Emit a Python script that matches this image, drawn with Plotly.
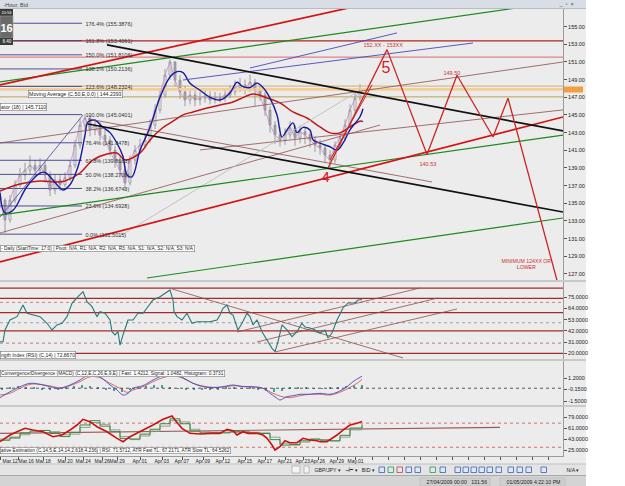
import plotly.graph_objects as go

W, H = 625, 486

# ---------------- price panel data (t = chart time position) ----------------
bar_t = list(range(0, 361, 5))
first_open = 135.8
bar_close = [135.35, 133.1, 135.35, 137.1, 138.2, 138.75, 139.3, 138.75, 139.3, 138.2,
             136.5, 137.65, 137.1, 137.9, 139.3, 141.6, 143.85, 144.65, 143.3, 143.85,
             142.7, 142.15, 141.0, 139.7, 138.75, 137.3, 139.9, 141.0, 141.6, 142.15,
             143.85, 145.55, 147.25, 149.5, 151.0, 148.95, 147.6, 146.7, 147.25, 146.7,
             146.9, 147.15, 146.7, 147.0, 146.9, 147.25, 147.6, 148.05, 148.4, 148.05,
             148.7, 147.85, 147.25, 145.55, 143.85, 142.75, 142.15, 142.75, 143.55, 142.4,
             143.1, 142.75, 142.15, 141.6, 141.25, 140.45, 139.9, 141.6, 142.4, 143.85,
             145.55, 146.9, 147.99]
bar_high = [136.6, 135.6, 135.9, 137.6, 139.0, 139.6, 140.4, 139.9, 140.1, 139.7,
            138.6, 138.3, 138.2, 138.5, 139.9, 142.2, 144.6, 145.1, 145.0, 144.5,
            144.2, 143.4, 142.6, 141.5, 140.3, 139.2, 140.4, 141.6, 142.3, 142.9,
            144.5, 146.2, 148.0, 150.2, 151.3, 151.1, 149.5, 148.3, 148.0, 147.8,
            147.6, 147.8, 147.7, 147.6, 147.5, 147.9, 148.4, 148.9, 149.2, 149.0,
            149.6, 149.1, 148.3, 147.6, 146.0, 144.3, 143.6, 143.5, 144.3, 143.9,
            143.8, 143.6, 143.2, 142.6, 142.2, 141.7, 141.0, 142.0, 143.1, 144.5,
            146.2, 147.6, 148.5]
bar_low = [134.5, 131.6, 132.8, 135.0, 136.8, 137.6, 138.3, 137.9, 138.2, 137.3,
           135.8, 136.0, 136.4, 136.8, 137.5, 139.0, 141.2, 143.2, 142.6, 142.7,
           142.1, 141.5, 140.4, 139.0, 137.9, 136.4, 137.0, 139.4, 140.6, 141.2,
           141.8, 143.4, 145.2, 146.9, 149.0, 148.2, 146.8, 146.0, 146.2, 146.0,
           146.1, 146.4, 146.2, 146.3, 146.4, 146.5, 146.9, 147.2, 147.6, 147.3,
           147.6, 146.0, 146.6, 144.9, 143.0, 141.7, 141.4, 141.6, 142.3, 141.5,
           141.8, 141.7, 141.3, 140.8, 140.5, 139.6, 139.0, 139.5, 141.2, 142.0,
           143.5, 145.2, 146.6]
bar_open = [first_open] + bar_close[:-1]

# oscillator (18) - blue
blue_t = [0, 5, 13, 27, 40, 45, 57, 63, 70, 75, 80, 85, 88, 95, 103, 110, 117, 123, 127, 132,
          140, 150, 160, 170, 177, 183, 190, 200, 210, 220, 230, 237, 243, 250, 257, 263, 270,
          277, 282, 287, 293, 297, 303, 310, 313, 320, 330, 337, 343, 350, 360, 363]
blue_v = [136.2, 133.9, 134.2, 136.9, 138.4, 138.5, 137.1, 136.5, 137.1, 138.2, 139.9, 142.7,
          144.2, 144.4, 143.6, 143.0, 141.8, 140.3, 138.2, 138.0, 141.0, 143.6, 147.0, 149.3,
          149.9, 149.8, 148.6, 147.8, 147.0, 146.7, 147.5, 148.7, 148.2, 148.1, 148.6, 148.1,
          146.9, 145.0, 142.5, 143.3, 144.1, 143.0, 143.6, 143.3, 142.2, 141.8, 141.4, 141.0,
          141.8, 143.3, 144.8, 145.71]
# moving average (C,50,E) - red
ma_t = [0, 20, 40, 57, 65, 80, 93, 107, 117, 125, 140, 150, 160, 167, 175, 183, 193, 207, 220,
        233, 240, 253, 267, 280, 293, 307, 320, 330, 340, 350, 360, 363]
ma_v = [136.39, 137.19, 137.53, 137.41, 137.53, 138.43, 139.91, 140.58, 140.70, 139.91, 140.70,
        142.17, 143.30, 143.87, 144.44, 145.01, 145.34, 145.79, 146.13, 146.47, 146.81, 147.38,
        146.93, 146.36, 145.34, 144.66, 143.64, 142.97, 142.97, 143.64, 144.3, 144.24]

fib_pct = ["176.4%", "161.8%", "150.0%", "138.2%", "123.6%", "100.0%",
           "76.4%", "61.8%", "50.0%", "38.2%", "23.6%", "0.0%"]
fib_price = [155.3876, 153.4061, 151.8106, 150.2136, 148.2324, 145.0401,
             141.8478, 139.8663, 138.2708, 136.6743, 134.6928, 131.5015]

level_red = 153.40
level_pink = 151.55
level_tan = 148.27
band_current = (147.75, 148.05)
level_olive = 147.05
last_price = 147.99

black_upper = [(107, 152.93), (563, 143.19)]
black_lower = [(88, 143.98), (563, 134.01)]
red_upper = [(0, 148.40), (360, 157.4)]
red_lower = [(0, 128.36), (563, 144.77)]
green_upper = [(0, 148.74), (563, 157.87)]
green_mid = [(0, 133.66), (563, 142.72)]
green_lower = [(147, 126.54), (563, 133.33)]
maroon_lines = [[(0, 141.83), (563, 151.0)],
                [(0, 131.63), (380, 143.86)],
                [(88, 144.55), (432, 137.41)],
                [(200, 141.04), (563, 145.57)]]
gray_diag = [(118, 131.16), (360, 147.83)]
navy_diag = [(0, 133.44), (83, 145.0)]
blue_lines = [[(250, 150.32), (397, 154.29)], [(183, 148.96), (473, 153.15)]]
red_thin = [(330, 139.9), (372, 148.4)]

zz_t = [328, 387, 427, 457, 493, 508, 560]
zz_p = [139.0, 152.4, 140.53, 149.5, 142.5, 146.9, 125.0]

# ---------------- RSI ----------------
rsi_t = [0, 3, 5, 10, 17, 23, 27, 33, 40, 47, 52, 57, 62, 67, 72, 78, 83, 87, 92, 97,
         100, 105, 110, 112, 115, 118, 120, 123, 128, 133, 138, 143, 148, 153, 160, 165, 170, 173, 174, 177,
         182, 187, 192, 197, 203, 210, 217, 220, 223, 227, 230, 233, 238, 242, 247, 250, 253, 257, 262, 267,
         272, 275, 278, 282, 287, 292, 297, 302, 305, 310, 315, 320, 325, 328, 332, 337, 343, 348, 355, 358, 362]
rsi_v = [31.4, 31.4, 42.9, 52.7, 56.0, 67.4, 59.3, 57.6, 56.0, 49.5, 42.9, 47.8, 49.5, 56.0, 69.1,
         75.6, 80.5, 70.7, 65.8, 56.0, 60.9, 59.3, 52.7, 41.2, 38.0, 41.2, 28.1, 38.0, 52.7, 52.7,
         59.3, 59.3, 65.8, 72.3, 75.6, 78.9, 82.2, 72.3, 60.9, 56.0, 52.7, 59.3, 49.5, 51.0, 51.0,
         51.0, 52.7, 57.6, 64.2, 67.4, 59.3, 57.6, 42.9, 49.5, 59.3, 56.0, 47.8, 52.7, 41.2, 33.1,
         24.9, 21.6, 31.4, 47.8, 42.9, 36.3, 41.2, 49.5, 45.8, 44.8, 42.9, 39.9, 42.9, 35.0, 39.9,
         52.7, 64.5, 69.4, 69.4, 72.3, 72.87]
rsi_solid_levels = [84, 74, 60, 42, 20]
rsi_dotted_levels = [70, 50, 30]
rsi_trend = [[(237, 40.9), (420, 84.1)], [(257, 31.1), (438, 74.3)],
             [(275, 21.3), (457, 63.5)], [(172, 83.2), (403, 15.4)]]
rsi_ticks = [20, 31, 42, 53, 64, 75]

# ---------------- MACD ----------------
macd_t = [0, 10, 20, 30, 40, 50, 60, 70, 80, 87, 97, 103, 110, 117, 123, 128, 133, 143, 153, 163,
          173, 183, 193, 203, 213, 223, 233, 243, 253, 263, 270, 277, 280, 287, 293, 300, 310, 320,
          330, 337, 347, 353, 362]
macd_fast = [-1.11, -0.41, 0.18, 0.58, 0.46, 0.18, -0.01, 0.38, 0.97, 1.47, 1.47, 1.08, 0.38, -0.21,
             -0.80, -0.60, -0.01, 0.30, 0.97, 1.47, 1.55, 1.24, 0.58, 0.18, 0.06, 0.18, 0.38, 0.18,
             0.18, -0.01, -0.60, -1.18, -1.38, -0.99, -0.88, -0.71, -0.71, -0.60, -0.71, -0.48,
             0.18, 0.77, 1.42]
sig_t = [0, 10, 20, 30, 40, 50, 60, 70, 80, 90, 100, 110, 120, 127, 133, 143, 153, 163, 173, 183,
         193, 203, 213, 223, 233, 243, 253, 263, 273, 282, 290, 300, 310, 320, 330, 337, 347, 357, 362]
sig_v = [-0.80, -0.60, -0.01, 0.46, 0.46, 0.26, 0.06, 0.30, 0.77, 1.35, 1.24, 0.58, -0.01, -0.48,
         -0.21, 0.18, 0.77, 1.24, 1.47, 1.16, 0.58, 0.26, 0.11, 0.14, 0.30, 0.22, 0.14, -0.01,
         -0.60, -0.99, -1.11, -0.88, -0.71, -0.71, -0.80, -0.60, -0.09, 0.58, 1.05]
hist_t = list(range(2, 363, 8))
hist_v = [-0.2, 0.2, 0.3, 0.2, 0.05, -0.1, -0.15, -0.1, 0.1, 0.25, 0.4, 0.3, 0.15, -0.2, -0.35,
          -0.4, -0.2, 0.15, 0.3, 0.4, 0.35, 0.2, -0.05, -0.2, -0.25, -0.15, -0.1, -0.1, 0.05, 0.1,
          -0.05, 0.05, -0.1, -0.3, -0.4, -0.3, 0.1, 0.15, 0.1, 0.02, -0.05, 0.05, 0.2, 0.3, 0.35, 0.37]
macd_ticks = [1.2, -0.15, -1.5]
macd_ticktext = ["1.2000", "-0.1500", "-1.5000"]

# ---------------- Adaptive estimation panel ----------------
ae_t = [0, 5, 10, 17, 25, 33, 43, 53, 62, 70, 77, 83, 90, 97, 107, 117, 123, 130, 137, 143,
        153, 163, 172, 175, 182, 190, 200, 210, 220, 227, 233, 237, 243, 248, 257, 263, 267, 272,
        275, 280, 285, 290, 297, 303, 310, 317, 320, 327, 332, 337, 343, 350, 357, 362]
ae_v = [38.6, 44.1, 49.5, 54.9, 60.5, 57.7, 54.9, 46.8, 49.5, 57.7, 65.9, 75.2, 71.3, 63.1, 54.9,
        44.1, 38.6, 46.8, 52.3, 57.7, 65.9, 75.2, 80.6, 74.1, 60.5, 52.3, 51.2, 52.3, 52.3, 58.9,
        56.6, 49.5, 54.9, 52.3, 52.3, 49.5, 44.1, 33.2, 25.0, 30.4, 40.2, 37.0, 37.0, 44.1, 41.4,
        40.2, 38.6, 38.6, 44.1, 49.5, 57.7, 65.9, 68.7, 71.57]
atr_t = [0, 10, 20, 30, 40, 50, 60, 70, 80, 90, 100, 110, 120, 130, 140, 150, 160, 170, 180, 190,
         200, 210, 220, 230, 240, 250, 260, 270, 280, 290, 300, 310, 320, 330, 340, 350, 362]
atr_fast = [41, 46, 53, 56, 57, 52, 47, 54, 66, 73, 64, 55, 44, 43, 51, 59, 68, 76, 68, 56,
            53, 53, 53, 55, 54, 53, 52, 42, 33, 34, 40, 43, 41, 40, 49, 61, 67.2]
atr_slow = [43, 44, 50, 54, 57, 55, 50, 51, 62, 70, 67, 58, 47, 42, 48, 56, 64, 73, 71, 59,
            55, 54, 54, 54, 55, 54, 53, 46, 36, 33, 38, 42, 42, 40, 46, 58, 64.5]
ae_ref = [(0, 52.3), (500, 62.1)]
ae_dotted = [69, 29.5]
ae_ticks = [79, 61, 43, 25]

# ---------------- time axis ----------------
date_t = [0, 18, 43, 65, 83, 102, 117, 140, 162, 182, 203, 223, 245, 265, 285, 303, 318, 337, 355]
date_lbl = ["Mar.12", "Mar.16", "Mar.18", "Mar.20", "Mar.24", "Mar.26", "Mar.29", "Apr.01",
            "Apr.03", "Apr.07", "Apr.09", "Apr.12", "Apr.15", "Apr.17", "Apr.21", "Apr.23",
            "Apr.26", "Apr.29", "May.01"]
future_t = [372, 388, 404, 420, 436, 452, 468, 484, 500, 516, 532, 548]

price_ticks = list(range(127, 156, 2))

# =====================================================================
FONT = "Liberation Sans"
fig = go.Figure()


def line(pts, color, width, yaxis="y", dash="solid"):
    fig.add_trace(go.Scatter(x=[p[0] for p in pts], y=[p[1] for p in pts], mode="lines",
                             line=dict(color=color, width=width, dash=dash), yaxis=yaxis,
                             hoverinfo="skip", showlegend=False))


# current price band
fig.add_trace(go.Scatter(x=[0, 563, 563, 0, 0],
                         y=[band_current[0], band_current[0], band_current[1], band_current[1], band_current[0]],
                         fill="toself", fillcolor="#f3cf98", line=dict(width=0), mode="lines",
                         hoverinfo="skip", showlegend=False))
line([(0, level_tan), (563, level_tan)], "#d2ae6e", 1)
line([(0, level_olive), (563, level_olive)], "#b5a55a", 1)
line([(0, level_red), (563, level_red)], "#b02424", 1.2)
line([(0, level_pink), (563, level_pink)], "#d66a6a", 1)

for p in fib_price:
    line([(0, p), (82, p)], "#3c3c8c", 0.9)

# candles
fig.add_trace(go.Candlestick(x=bar_t, open=bar_open, high=bar_high, low=bar_low, close=bar_close,
                             increasing=dict(line=dict(color="#8c8c8c", width=0.8), fillcolor="#ffffff"),
                             decreasing=dict(line=dict(color="#8c8c8c", width=0.8), fillcolor="#a8a8a8"),
                             whiskerwidth=0, hoverinfo="skip", showlegend=False))

fig.add_trace(go.Scatter(x=bar_t, y=bar_close, mode="lines", line=dict(color="#c58ad0", width=0.8),
                         hoverinfo="skip", showlegend=False))
fig.add_trace(go.Scatter(x=ma_t, y=ma_v, mode="lines", line=dict(color="#c01818", width=1.5, shape="spline"),
                         hoverinfo="skip", showlegend=False))
fig.add_trace(go.Scatter(x=blue_t, y=blue_v, mode="lines", line=dict(color="#1a1aa0", width=1.4, shape="spline"),
                         hoverinfo="skip", showlegend=False))

for seg in maroon_lines:
    line(seg, "#8e4e4e", 0.8)
line(gray_diag, "#bdbdbd", 0.9)
line(navy_diag, "#4444a8", 0.8)
for seg in blue_lines:
    line(seg, "#4848b8", 0.9)
line(green_upper, "#1c8a1c", 1.2)
line(green_mid, "#1c8a1c", 1.2)
line(green_lower, "#1c8a1c", 1.2)
line(red_upper, "#d41414", 1.7)
line(red_lower, "#d41414", 1.7)
line(black_upper, "#111111", 1.7)
line(black_lower, "#111111", 1.7)
line(red_thin, "#d02020", 1)
fig.add_trace(go.Scatter(x=zz_t, y=zz_p, mode="lines", line=dict(color="#cc2424", width=1.3),
                         hoverinfo="skip", showlegend=False))

# RSI
for lv in rsi_solid_levels:
    line([(0, lv), (563, lv)], "#a82828", 1.3, "y2")
for lv, c in zip(rsi_dotted_levels, ["#d07070", "#999999", "#b07070"]):
    line([(0, lv), (563, lv)], c, 0.9, "y2", "dot")
for seg in rsi_trend:
    line(seg, "#8e4e4e", 0.8, "y2")
fig.add_trace(go.Scatter(x=rsi_t, y=rsi_v, mode="lines", line=dict(color="#2a7878", width=1.1),
                         yaxis="y2", hoverinfo="skip", showlegend=False))

# MACD
line([(0, 0), (563, 0)], "#333333", 0.8, "y3", "dot")
fig.add_trace(go.Bar(x=hist_t, y=hist_v, width=2.2, marker=dict(color="#4c9c9c", line=dict(width=0)),
                     yaxis="y3", hoverinfo="skip", showlegend=False))
fig.add_trace(go.Scatter(x=sig_t, y=sig_v, mode="lines", line=dict(color="#d25c5c", width=0.9, shape="spline"),
                         yaxis="y3", hoverinfo="skip", showlegend=False))
fig.add_trace(go.Scatter(x=macd_t, y=macd_fast, mode="lines", line=dict(color="#4a4ac0", width=0.9, shape="spline"),
                         yaxis="y3", hoverinfo="skip", showlegend=False))

# Adaptive estimation
for lv in ae_dotted:
    line([(0, lv), (563, lv)], "#d06060", 0.9, "y4", "dot")
line(ae_ref, "#9a5a5a", 1.1, "y4")
fig.add_trace(go.Scatter(x=atr_t, y=atr_slow, mode="lines", line=dict(color="#9a9a9a", width=1, shape="hv"),
                         yaxis="y4", hoverinfo="skip", showlegend=False))
fig.add_trace(go.Scatter(x=atr_t, y=atr_fast, mode="lines", line=dict(color="#3a8a3a", width=1, shape="hv"),
                         yaxis="y4", hoverinfo="skip", showlegend=False))
fig.add_trace(go.Scatter(x=ae_t, y=ae_v, mode="lines", line=dict(color="#cc1010", width=1.6),
                         yaxis="y4", hoverinfo="skip", showlegend=False))

# ---------------- layout ----------------
def PY(y):
    return 1 - y / H


XD = [0, 563 / W]
axis_common = dict(side="right", anchor="x", showline=True, linecolor="#9a9a9a", linewidth=1,
                   ticks="outside", ticklen=3, tickcolor="#555555", tickwidth=1,
                   tickfont=dict(family=FONT, size=5.5, color="#222222"),
                   showgrid=False, zeroline=False, fixedrange=True)

fig.update_layout(
    width=W, height=H, margin=dict(l=0, r=0, t=0, b=0, pad=0),
    paper_bgcolor="#ffffff", plot_bgcolor="#ececec", showlegend=False,
    boxgap=0.45, bargap=0,
    xaxis=dict(domain=XD, range=[0, 563], anchor="y4", showline=True, linecolor="#9a9a9a",
               ticks="outside", ticklen=3, tickcolor="#555555", tickangle=0,
               tickvals=date_t + future_t, showticklabels=False,
               showgrid=False, zeroline=False, rangeslider=dict(visible=False), fixedrange=True),
    yaxis=dict(domain=[PY(280), PY(9)], range=[126.31, 157.0], tickvals=price_ticks,
               ticktext=["%.2f" % v for v in price_ticks], **axis_common),
    yaxis2=dict(domain=[PY(359), PY(282)], range=[14.4, 90.0], tickvals=rsi_ticks,
                ticktext=["%.4f" % v for v in rsi_ticks], **axis_common),
    yaxis3=dict(domain=[PY(405), PY(361)], range=[-1.97, 3.2], tickvals=macd_ticks,
                ticktext=macd_ticktext, **axis_common),
    yaxis4=dict(domain=[PY(456), PY(407)], range=[15.2, 95.4], tickvals=ae_ticks,
                ticktext=["%.4f" % v for v in ae_ticks], **axis_common),
)

shapes = []


def rect(x0, y0, x1, y1, fill, lc=None, lw=0, layer="below"):
    shapes.append(dict(type="rect", xref="paper", yref="paper", x0=x0 / W, x1=x1 / W,
                       y0=PY(y1), y1=PY(y0), fillcolor=fill, layer=layer,
                       line=dict(color=lc or fill, width=lw)))


def hline(y, x0, x1, color, width=1, layer="above"):
    shapes.append(dict(type="line", xref="paper", yref="paper", x0=x0 / W, x1=x1 / W,
                       y0=PY(y), y1=PY(y), layer=layer, line=dict(color=color, width=width)))


rect(0, 0, 586, 486, "#ececec")
rect(0, 0, 586, 8.5, "#d9dee6", layer="above")
hline(8.5, 0, 586, "#b8bcc4")
hline(281, 0, 586, "#a6a6a6")
hline(360, 0, 586, "#a6a6a6")
hline(406, 0, 586, "#a6a6a6")
rect(0, 464, 586, 475, "#e4e4e4", layer="above")
hline(464, 0, 586, "#c0c0c0")
rect(0, 475, 586, 486, "#d4d4d4", layer="above")
hline(475.5, 0, 586, "#a8a8a8")
rect(292, 466, 300, 473, "#f4f4f4", "#999999", 0.6, "above")
rect(304, 466, 309, 473, "#f4f4f4", "#999999", 0.6, "above")
# toolbar icons
for xi, col in [(379, "#3a5fb0"), (388, "#2e9a3e"), (397, "#c84040"), (406, "#3a5fb0"),
                (415, "#3a5fb0"), (430, "#2e9a3e"), (440, "#3a5fb0"), (455, "#3a5fb0"),
                (463, "#3a5fb0"), (471, "#3a5fb0"), (479, "#3a5fb0"), (487, "#3a5fb0"),
                (496, "#3a5fb0"), (508, "#3a5fb0"), (517, "#3a5fb0"), (526, "#3a5fb0"),
                (541, "#3a5fb0")]:
    rect(xi, 467, xi + 5.5, 472.5, "#dfe8f6", col, 0.8, "above")
rect(420, 478, 490, 486, "#cfcfcf", "#b0b0b0", 0.5, "above")
rect(500, 478, 565, 486, "#cfcfcf", "#b0b0b0", 0.5, "above")
# clock box
rect(0, 9, 13, 16, "#3b3b3b", layer="above")
rect(0, 16, 13, 38, "#6a6a6a", "#9a9a9a", 0.6, "above")
rect(0, 38, 13, 45, "#3b3b3b", layer="above")
# right price tag
rect(564, 86.5, 583, 92.5, "#f0a040", layer="above")
fig.update_layout(shapes=shapes)

ann = []


def txt(x, y, s, size=5.5, color="#222222", xanchor="left", yanchor="middle", xref="x", yref="y",
        bg=None, border=None, bold=False, xshift=0):
    d = dict(x=x, y=y, text=("<b>%s</b>" % s) if bold else s, showarrow=False, xref=xref, yref=yref,
             xanchor=xanchor, yanchor=yanchor, font=dict(family=FONT, size=size, color=color),
             borderpad=0.5, xshift=xshift)
    if bg:
        d["bgcolor"] = bg
    if border:
        d["bordercolor"] = border
        d["borderwidth"] = 0.6
    ann.append(d)


for pct, p in zip(fib_pct, fib_price):
    txt(84, p, "%s (%.4f)" % (pct, p), size=5.5, color="#333333")

txt(28, 147.37, "Moving Average (C,50,E,0,0) | 144.2393", size=5.2, bg="#ffffff", border="#777777")
txt(0, 145.9, "ator (18) | 145.7110", size=5.2, bg="#ffffff", border="#777777")
txt(0, 129.9, "- Daily (StartTime: 17:0) | Pivot: N/A, R1: N/A, R2: N/A, R3: N/A, S1: N/A, S2: N/A, S3: N/A",
    size=4.8, bg="#ffffff", border="#777777")
txt(0, 18.3, "ngth Index (RSI) (C,14) | 72.8670", size=5.0, yref="y2", bg="#ffffff", border="#777777")
txt(0, 1.79, "Convergence/Divergence (MACD) (C,12,E,C,26,E,9,E) | Fast: 1.4212, Signal: 1.0482, Histogram: 0.3731",
    size=4.8, yref="y3", bg="#ffffff", border="#777777")
txt(0, 24.2, "ative Estimation (C,14,5,E,14,14,2.618,4.236) | RSI: 71.5712, ATR Fast TL: 67.2171, ATR Slow TL: 64.5262",
    size=4.8, yref="y4", bg="#ffffff", border="#777777")

txt(383, 153.0, "152.XX - 153XX", size=5.5, color="#c83030", xanchor="center")
txt(386, 150.4, "5", size=16, color="#d02020", xanchor="center")
txt(452, 149.85, "149.50", size=5.5, color="#c83030", xanchor="center")
txt(428, 139.55, "140.53", size=5.5, color="#c83030", xanchor="center")
txt(325, 138.1, "4", size=15, color="#d02020", xanchor="center")
txt(500, 129.0, "MINIMUM 124XX OR<br>LOWER", size=5.2, color="#c83030", yanchor="top")

txt(573, last_price, "147.99", size=5, color="#ffffff", xanchor="center")

# date labels under the time axis (first one kept inside the window)
for i, (t, lbl) in enumerate(zip(date_t, date_lbl)):
    if i == 0:
        txt(t, PY(460.5), lbl, size=5.0, color="#222222", xanchor="left", yref="paper", xshift=0.5)
    elif i == 1:
        txt(t, PY(460.5), lbl, size=5.0, color="#222222", xanchor="center", yref="paper", xshift=8.5)
    else:
        txt(t, PY(460.5), lbl, size=5.0, color="#222222", xanchor="center", yref="paper")

# window chrome text (paper coords)
txt(2 / W, PY(4.3), "-Hour, Bid", size=5.5, color="#444444", xref="paper", yref="paper")
txt(566 / W, PY(4), "_  ▫  ×", size=5.5, color="#444444", xref="paper", yref="paper", xanchor="center")
txt(6.5 / W, PY(12.5), "20:56", size=4, color="#ffffff", xref="paper", yref="paper", xanchor="center")
txt(6.5 / W, PY(27), "16", size=11, color="#ffffff", xref="paper", yref="paper", xanchor="center", bold=True)
txt(6.5 / W, PY(41.5), "8.40", size=4.5, color="#ffffff", xref="paper", yref="paper", xanchor="center")
txt(313 / W, PY(469.5), "GBP/JPY ▾   ⊣⊢ ▾   BID ▾", size=5.2, color="#222222", xref="paper", yref="paper")
txt(565 / W, PY(469.5), "N/A ▾", size=5.2, color="#222222", xref="paper", yref="paper")
txt(425 / W, PY(481.5), "27/04/2009 00:00   131.56", size=5.2, color="#222222", xref="paper", yref="paper")
txt(505 / W, PY(481.5), "01/05/2009 4:22:10 PM", size=5.2, color="#222222", xref="paper", yref="paper")

fig.update_layout(annotations=ann)

fig.write_html("out.html")
